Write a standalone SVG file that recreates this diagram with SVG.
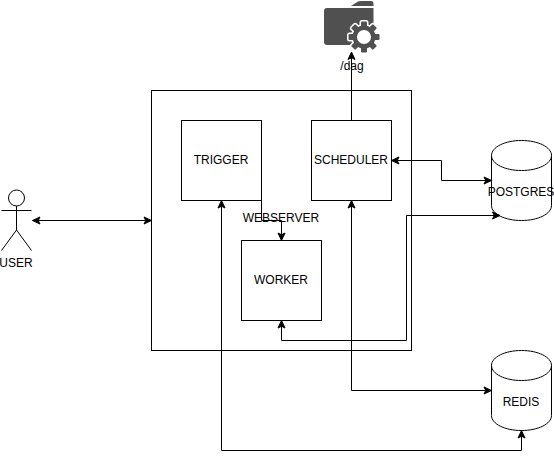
<svg xmlns="http://www.w3.org/2000/svg" width="554" height="460" viewBox="0 0 554 460">
<style>
text{font-family:"Liberation Sans",Arial,sans-serif;font-size:12px;text-anchor:middle;fill:#000}
.s{fill:#fff;stroke:#000;stroke-width:1}
.c{fill:none;stroke:#000;stroke-width:1;marker-end:url(#a)}
.b{marker-start:url(#r)}
.n{fill:none;stroke:#000;stroke-width:1}
</style>
<defs>
<marker id="a" markerUnits="userSpaceOnUse" markerWidth="10" markerHeight="10" refX="8" refY="5" orient="auto" overflow="visible"><path d="M0.5 1.5L8 5L0.5 8.5L2.25 5Z" fill="#000" stroke="#000" stroke-width="1"/></marker>
<marker id="r" markerUnits="userSpaceOnUse" markerWidth="10" markerHeight="10" refX="2" refY="5" orient="auto" overflow="visible"><path d="M9.5 1.5L2 5L9.5 8.5L7.75 5Z" fill="#000" stroke="#000" stroke-width="1"/></marker>
<g id="gear">
<circle cx="364" cy="37" r="11.500"/>
<rect x="361" y="21.500" width="6" height="31" rx="1"/>
<rect x="361" y="21.500" width="6" height="31" rx="1" transform="rotate(45 364 37)"/>
<rect x="361" y="21.500" width="6" height="31" rx="1" transform="rotate(90 364 37)"/>
<rect x="361" y="21.500" width="6" height="31" rx="1" transform="rotate(135 364 37)"/>
</g>
</defs>
<rect width="554" height="460" fill="#fff"/>
<g id="webserver"><rect class="s" x="151.5" y="90.5" width="260" height="260"/></g>
<g id="trigger"><rect class="s" x="181.5" y="120.5" width="80" height="80"/><text x="221" y="163.500">TRIGGER</text></g>
<g id="scheduler"><rect class="s" x="311.5" y="120.5" width="80" height="80"/><text x="351" y="163.500">SCHEDULER</text></g>
<g id="worker"><rect class="s" x="241.5" y="240.5" width="80" height="80"/><text x="281" y="283.500">WORKER</text></g>
<g id="postgres"><path class="s" d="M491.5 155.5C491.5 147 505 140.5 521.5 140.5C538 140.5 551.5 147 551.5 155.5V205.5C551.5 214 538 220.5 521.5 220.5C505 220.5 491.5 214 491.5 205.5Z"/><path class="n" d="M491.5 155.5C491.5 164 505 170.5 521.5 170.5C538 170.5 551.5 164 551.5 155.5"/><text x="521" y="196">POSTGRES</text></g>
<g id="redis"><path class="s" d="M491.5 365.5C491.5 357 505 350.5 521.5 350.5C538 350.5 551.5 357 551.5 365.5V415.5C551.5 424 538 430.5 521.5 430.5C505 430.5 491.5 424 491.5 415.5Z"/><path class="n" d="M491.5 365.5C491.5 374 505 380.5 521.5 380.5C538 380.5 551.5 374 551.5 365.5"/><text x="521" y="406">REDIS</text></g>
<g id="user"><circle class="n" cx="16.5" cy="198" r="8"/><path class="n" d="M16.5 206V230M1.5 210.500H31.500M1.500 250.500L16.500 230L31.500 250.500"/><text x="16" y="267">USER</text></g>
<g id="dag">
<path d="M324 11Q324 8 327 8H373.500V42Q373.500 45 370.500 45H327Q324 45 324 42Z" fill="#505050"/>
<path d="M351 6L358 1.500Q359 1 361 1H371Q373.500 1 373.500 4V6Z" fill="#505050"/>
<use href="#gear" fill="#fff" stroke="#fff" stroke-width="3"/>
<use href="#gear" fill="#505050"/>
<circle cx="364" cy="37" r="7" fill="#fff"/>
<text x="352" y="70">/dag</text>
</g>
<g id="connectors">
<path class="c b" d="M32.500 220.500H151.500"/>
<path class="c" d="M351.500 120.500V52"/>
<path class="c" d="M261.500 200.500V220.500H281.500V240.500"/>
<path class="c b" d="M391.500 160.500H441.500V180.500H491.500"/>
<path class="c b" d="M281.500 320.500V340.500H406.500V215.500H500"/>
<path class="c b" d="M351.500 200.500V390.500H491.500"/>
<path class="c b" d="M221.500 200.500V450.500H521.500V430.500"/>
</g>
<g id="webserver-label"><text x="281" y="222">WEBSERVER</text></g>
</svg>
